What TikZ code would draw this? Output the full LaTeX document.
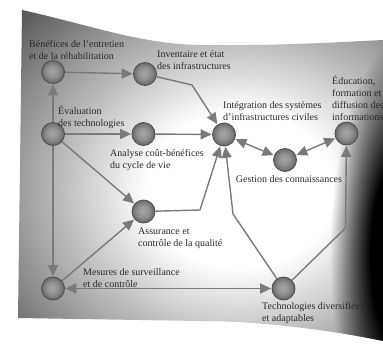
\documentclass[tikz,border=0pt]{standalone}
\usepackage{fontspec}
\setmainfont{Liberation Serif}
\usetikzlibrary{arrows.meta,fadings}
\definecolor{arrgray}{HTML}{7A7A7A}
\definecolor{dotin}{HTML}{A8A8A8}
\definecolor{dotmid}{HTML}{8E8E8E}
\definecolor{dotout}{HTML}{666666}
\definecolor{dotrim}{HTML}{4E4E4E}
\definecolor{textgray}{HTML}{2A2A2A}
\definecolor{pbA}{HTML}{C4C4C4}
\definecolor{pbB}{HTML}{A0A0A0}
\definecolor{pbC}{HTML}{555555}
\pgfdeclareradialshading{papersh}{\pgfpointorigin}{color(0bp)=(white); color(7.5bp)=(white); color(13.5bp)=(pbA); color(17.3bp)=(pbB); color(24.6bp)=(pbC); color(50bp)=(pbC)}
\pgfdeclareradialshading{dotsh}{\pgfpoint{-2bp}{2bp}}{color(0bp)=(dotin); color(14bp)=(dotmid); color(25bp)=(dotout); color(50bp)=(dotout)}
\pgfdeclareradialshading{rdarksh}{\pgfpointorigin}{color(0bp)=(white); color(11bp)=(white); color(25bp)=(black); color(50bp)=(black)}
\pgfdeclarefading{rdark}{\pgfuseshading{rdarksh}}
\newcommand\lbfont{\fontsize{10}{12}\selectfont}
\tikzset{
  dot/.style={circle, minimum size=23pt, inner sep=0pt, draw=dotrim, line width=0.8pt, shade, shading=dotsh},
  con/.style={draw=arrgray, line width=1.4pt, -{Triangle[length=11pt,width=10pt]}, shorten >=0.5pt},
  bicon/.style={draw=arrgray, line width=1.4pt, {Triangle[length=11pt,width=10pt]}-{Triangle[length=11pt,width=10pt]}, shorten >=0.5pt, shorten <=0.5pt},
  lbl/.style={font=\lbfont, align=left, inner sep=0pt, text=textgray, anchor=west}
}
\begin{document}
\begin{tikzpicture}[x=1pt,y=-1pt]
\useasboundingbox (0,0) rectangle (383,343);
\fill[white] (0,0) rectangle (383,343);
\begin{scope}
\clip (22,10) .. controls (90,25) and (140,44) .. (200,45) .. controls (280,46) and (340,42) .. (383,40) -- (383,341) .. controls (330,330) and (260,321) .. (200,321) -- (18,318) -- cycle;
\shade[shading=papersh] (-72,-70) rectangle (552,450);
\fill[black, path fading=rdark] (402,255) ellipse [x radius=72, y radius=215];
\end{scope}

\node[dot] (B) at (53,72) {};
\node[dot] (Inv) at (145,74) {};
\node[dot] (Eval) at (53,134) {};
\node[dot] (ACB) at (143.5,134) {};
\node[dot] (Int) at (224,134.5) {};
\node[dot] (Edu) at (346.5,133.5) {};
\node[dot] (Ges) at (285,160) {};
\node[dot] (Ass) at (143.5,211.5) {};
\node[dot] (Mes) at (53,288.5) {};
\node[dot] (Tech) at (283.5,288.5) {};

\coordinate (k1) at (192,85);
\coordinate (k2) at (200,210);
\coordinate (k3) at (233,214);
\coordinate (k4) at (345.5,228);

\draw[con] (B) -- (Inv);
\draw[con] (Eval) -- (B);
\draw[con] (Eval) -- (ACB);
\draw[con] (Eval) -- (Ass);
\draw[con] (Eval) -- (Mes);
\draw[con] (Inv) -- (k1) -- (Int);
\draw[con] (ACB) -- (Int);
\draw[bicon] (Int) -- (Ges);
\draw[bicon] (Ges) -- (Edu);
\draw[con] (Ass) -- (k2) -- (Int);
\draw[con] (Tech) -- (k3) -- (Int);
\draw[con] (Tech) -- (k4) -- (Edu);
\draw[con] (Mes) -- (Ass);
\draw[bicon] (Mes) -- (Tech);

\node[lbl] (tB) at (29,50) {Bénéfices de l'entretien\\et de la réhabilitation};
\node[lbl] (tInv) at (157,60) {Inventaire et état\\des infrastructures};
\node[lbl] (tEval) at (58,117) {Évaluation\\des technologies};
\node[lbl] (tInt) at (223,111) {Intégration des systèmes\\d'infrastructures civiles};
\node[lbl] (tEdu) at (332,98) {Éducation,\\formation et\\diffusion des\\informations};
\node[lbl] (tACB) at (110,160) {Analyse coût-bénéfices\\du cycle de vie};
\node[lbl, anchor=center] (tGes) at (289,179) {Gestion des connaissances};
\node[lbl] (tAss) at (138,238) {Assurance et\\contrôle de la qualité};
\node[lbl] (tMes) at (83,278) {Mesures de surveillance\\et de contrôle};
\node[lbl] (tTech) at (262,313) {Technologies diversifiées\\et adaptables};
\end{tikzpicture}
\end{document}
